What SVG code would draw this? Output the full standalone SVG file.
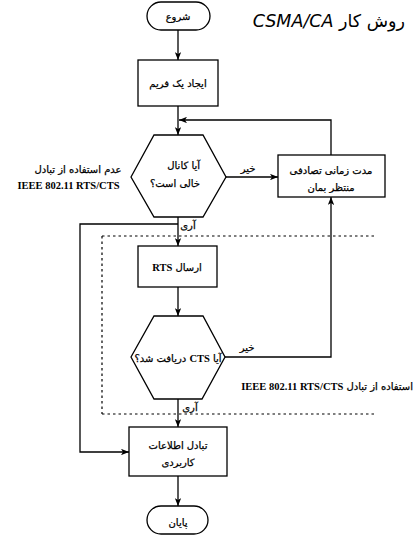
<svg xmlns="http://www.w3.org/2000/svg" width="416" height="536" viewBox="0 0 416 536">
<style>
.shape{fill:#fff;stroke:#000;stroke-width:1.3}
.line{fill:none;stroke:#000;stroke-width:1.3}
.dash{fill:none;stroke:#000;stroke-width:1.2;stroke-dasharray:2.5 3}
.t{font-family:"DejaVu Sans",sans-serif;font-size:10px;fill:#000;stroke:#000;stroke-width:0.25}
.en{font-family:"Liberation Serif",serif;font-size:10.5px;font-weight:bold;stroke:none}
.c{text-anchor:middle}
.title{font-family:"DejaVu Sans",sans-serif;font-size:17.5px;fill:#000}
</style>
<defs>
<marker id="arr" viewBox="0 0 10 8" refX="10" refY="4" markerWidth="8" markerHeight="6.4" orient="auto" markerUnits="userSpaceOnUse">
<path d="M0,0 L10,4 L0,8 L2.5,4 z" fill="#000"/>
</marker>
</defs>
<rect width="416" height="536" fill="#fff"/>
<text class="title" x="405" y="27" direction="rtl" text-anchor="start">روش کار <tspan font-style="italic">CSMA/CA</tspan></text>
<g id="connectors">
<line class="line" x1="178" y1="30" x2="178" y2="60" marker-end="url(#arr)"/>
<line class="line" x1="178" y1="106" x2="178" y2="135" marker-end="url(#arr)"/>
<line class="line" x1="226" y1="177" x2="278" y2="177" marker-end="url(#arr)"/>
<polyline class="line" points="331,155 331,120 179,120" marker-end="url(#arr)"/>
<line class="line" x1="178" y1="217" x2="178" y2="246" marker-end="url(#arr)"/>
<polyline class="line" points="178,224 80,224 80,452 129,452" marker-end="url(#arr)"/>
<line class="line" x1="178" y1="287" x2="178" y2="316" marker-end="url(#arr)"/>
<polyline class="line" points="225,357 331,357 331,197" marker-end="url(#arr)"/>
<line class="line" x1="178" y1="399" x2="178" y2="427" marker-end="url(#arr)"/>
<line class="line" x1="178" y1="476" x2="178" y2="506" marker-end="url(#arr)"/>
</g>
<g id="rts-region">
<line class="dash" x1="102" y1="236" x2="377" y2="236"/>
<line class="dash" x1="102" y1="236" x2="102" y2="414"/>
<line class="dash" x1="102" y1="414" x2="377" y2="414"/>
</g>
<g id="labels">
<text class="t c" x="248" y="172" direction="rtl">خیر</text>
<text class="t c" x="188" y="229" direction="rtl">آری</text>
<text class="t c" x="247" y="351" direction="rtl">خیر</text>
<text class="t c" x="190" y="411" direction="rtl">آری</text>
<text class="t c" x="78" y="173" direction="rtl">عدم استفاده از تبادل</text>
<text class="t en c" x="68.5" y="189">IEEE 802.11 RTS/CTS</text>
<text class="t" x="413" y="390" direction="rtl" text-anchor="start">استفاده از تبادل <tspan class="en">IEEE 802.11 RTS/CTS</tspan></text>
</g>
<g id="start">
<rect class="shape" x="147" y="2" width="63" height="28" rx="14"/>
<text class="t c" x="178" y="20" direction="rtl">شروع</text>
</g>
<g id="create-frame">
<rect class="shape" x="138" y="60" width="80" height="46"/>
<text class="t c" x="178" y="87" direction="rtl">ایجاد یک فریم</text>
</g>
<g id="channel-idle">
<polygon class="shape" points="131,177 154,135 203,135 226,177 203,217 154,217"/>
<text class="t" x="200" y="169" direction="rtl" text-anchor="start">آیا کانال</text>
<text class="t" x="200" y="187" direction="rtl" text-anchor="start">خالی است؟</text>
</g>
<g id="wait">
<rect class="shape" x="278" y="155" width="107" height="42"/>
<text class="t c" x="331" y="174" direction="rtl">مدت زمانی تصادفی</text>
<text class="t c" x="331" y="191" direction="rtl">منتظر بمان</text>
</g>
<g id="send-rts">
<rect class="shape" x="138" y="246" width="79" height="41"/>
<text class="t c" x="177" y="271" direction="rtl">ارسال <tspan class="en">RTS</tspan></text>
</g>
<g id="cts-received">
<polygon class="shape" points="131,357 154,316 203,316 225,357 202,399 154,399"/>
<text class="t c" x="178" y="362" direction="rtl">آیا <tspan class="en">CTS</tspan> دریافت شد؟</text>
</g>
<g id="exchange-data">
<rect class="shape" x="129" y="427" width="98" height="49"/>
<text class="t c" x="178" y="449" direction="rtl">تبادل اطلاعات</text>
<text class="t c" x="178" y="466" direction="rtl">کاربردی</text>
</g>
<g id="end">
<rect class="shape" x="147" y="506" width="61" height="28" rx="14"/>
<text class="t c" x="178" y="526" direction="rtl">پایان</text>
</g>
</svg>
